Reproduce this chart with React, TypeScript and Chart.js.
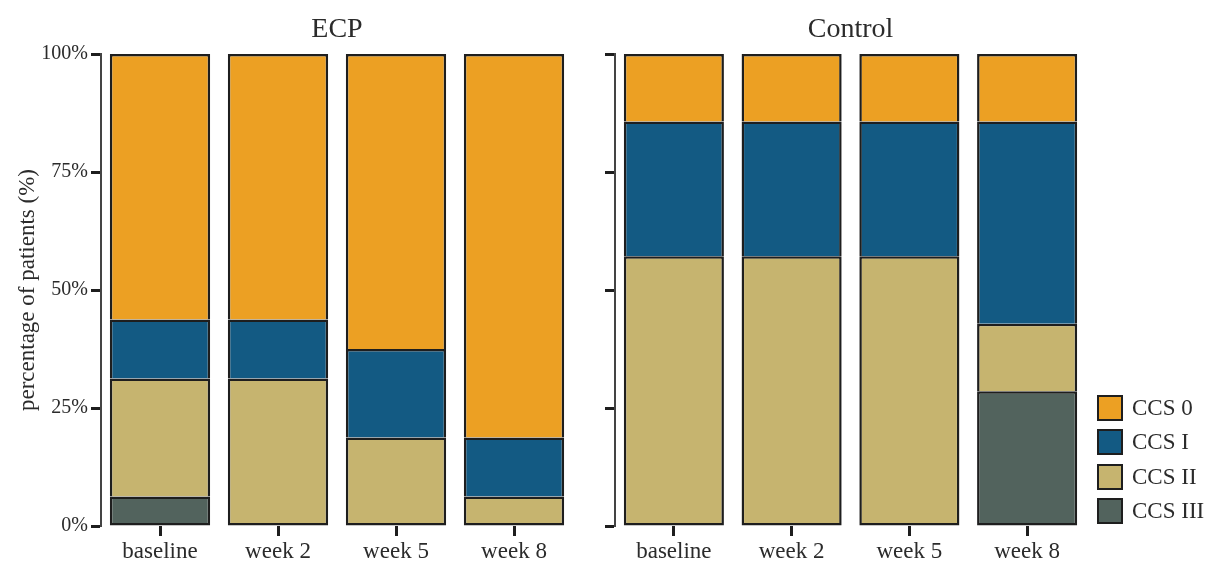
import React, { useEffect, useRef } from "react";
import { Chart, registerables } from "chart.js";

Chart.register(...registerables);

const categories = ["baseline", "week 2", "week 5", "week 8"];
const seriesNames = ["CCS 0", "CCS I", "CCS II", "CCS III"];
const seriesColors = ["#ECA023", "#135A83", "#C6B46F", "#52635D"];

// ECP group (% of patients)
const ecpCCS0 = [56.25, 56.25, 62.5, 81.25];
const ecpCCS1 = [12.5, 12.5, 18.75, 12.5];
const ecpCCS2 = [25, 31.25, 18.75, 6.25];
const ecpCCS3 = [6.25, 0, 0, 0];

// Control group (% of patients)
const ctlCCS0 = [14.29, 14.29, 14.29, 14.29];
const ctlCCS1 = [28.57, 28.57, 28.57, 42.86];
const ctlCCS2 = [57.14, 57.14, 57.14, 14.29];
const ctlCCS3 = [0, 0, 0, 28.57];

const yTicks = [0, 25, 50, 75, 100];

const FONT = '"Liberation Serif", "Times New Roman", serif';
const TEXT = "#2b2b2b";
const EDGE = "#1e1e1e";

const panelTitle = {
  id: "panelTitle",
  afterDraw(chart: any, _args: any, opts: any) {
    const { ctx, chartArea } = chart;
    ctx.save();
    ctx.font = `28px ${FONT}`;
    ctx.fillStyle = TEXT;
    ctx.textAlign = "center";
    ctx.textBaseline = "alphabetic";
    ctx.fillText(opts.text, (chartArea.left + chartArea.right) / 2, 37);
    ctx.restore();
  },
};

function buildConfig(
  title: string,
  series: number[][], // bottom to top: III, II, I, 0
  showYLabels: boolean,
  yWidth: number,
  padRight: number
) {
  const order = [3, 2, 1, 0];
  const datasets = series.map((vals, i) => {
    const s = order[i];
    return {
      label: seriesNames[s],
      data: vals.map((v) => (v === 0 ? null : v)),
      backgroundColor: seriesColors[s],
      borderColor: EDGE,
      borderWidth: 2.5,
      borderSkipped: (ctx: any) => {
        const di = ctx.dataIndex;
        for (let k = 0; k < i; k++) {
          if (series[k][di]) return "start";
        }
        return false;
      },
      barPercentage: 1,
      categoryPercentage: 0.85,
    };
  });
  return {
    type: "bar",
    data: { labels: categories, datasets },
    plugins: [panelTitle],
    options: {
      responsive: false,
      animation: false,
      devicePixelRatio: 1,
      layout: { padding: { top: 54, right: padRight, left: 0, bottom: 0 } },
      plugins: {
        legend: { display: false },
        tooltip: { enabled: false },
        panelTitle: { text: title },
      },
      scales: {
        x: {
          stacked: true,
          grid: {
            display: true,
            offset: false,
            drawOnChartArea: false,
            drawTicks: true,
            tickLength: 10,
            tickWidth: 3,
            tickColor: EDGE,
          },
          border: { display: false },
          ticks: {
            font: { family: FONT, size: 23 },
            color: TEXT,
            padding: 2,
            maxRotation: 0,
          },
          afterFit: (s: any) => {
            s.height = 36;
          },
        },
        y: {
          stacked: true,
          min: 0,
          max: 100,
          afterBuildTicks: (s: any) => {
            s.ticks = yTicks.map((v) => ({ value: v }));
          },
          ticks: {
            display: showYLabels,
            callback: (v: any) => `${v}%`,
            font: { family: FONT, size: 20 },
            color: TEXT,
            padding: 3,
          },
          grid: {
            display: true,
            drawOnChartArea: false,
            drawTicks: true,
            tickLength: 10,
            tickWidth: 3,
            tickColor: EDGE,
          },
          border: { display: true, color: "#444", width: 2 },
          title: {
            display: showYLabels,
            text: "percentage of patients (%)",
            font: { family: FONT, size: 23 },
            color: TEXT,
            padding: { top: 14, bottom: 4 },
          },
          afterFit: (s: any) => {
            s.width = yWidth;
          },
        },
      },
    },
  } as any;
}

function Panel(props: {
  left: number;
  width: number;
  config: any;
}) {
  const ref = useRef<HTMLCanvasElement | null>(null);
  useEffect(() => {
    if (!ref.current) return;
    const chart = new Chart(ref.current, props.config);
    return () => chart.destroy();
  }, []);
  return (
    <canvas
      ref={ref}
      width={props.width}
      height={562}
      style={{
        position: "absolute",
        left: props.left,
        top: 0,
        width: props.width,
        height: 562,
        display: "block",
      }}
    />
  );
}

const legendTops = [395, 429, 464, 498];

export default function App() {
  const ecpConfig = buildConfig(
    "ECP",
    [ecpCCS3, ecpCCS2, ecpCCS1, ecpCCS0],
    true,
    101,
    7
  );
  const ctlConfig = buildConfig(
    "Control",
    [ctlCCS3, ctlCCS2, ctlCCS1, ctlCCS0],
    false,
    35,
    130
  );
  return (
    <div
      style={{
        position: "absolute",
        left: 0,
        top: 0,
        width: 1216,
        height: 562,
        background: "#ffffff",
        overflow: "hidden",
      }}
    >
      <Panel left={0} width={580} config={ecpConfig} />
      <Panel left={580} width={636} config={ctlConfig} />
      {seriesNames.map((name, i) => (
        <div
          key={name}
          style={{
            position: "absolute",
            left: 1097,
            top: legendTops[i],
            height: 26,
            display: "flex",
            alignItems: "center",
            fontFamily: FONT,
            fontSize: 23,
            color: TEXT,
            whiteSpace: "nowrap",
          }}
        >
          <div
            style={{
              width: 22,
              height: 22,
              border: `2px solid ${EDGE}`,
              background: seriesColors[i],
              marginRight: 9,
            }}
          />
          <span>{name}</span>
        </div>
      ))}
    </div>
  );
}
